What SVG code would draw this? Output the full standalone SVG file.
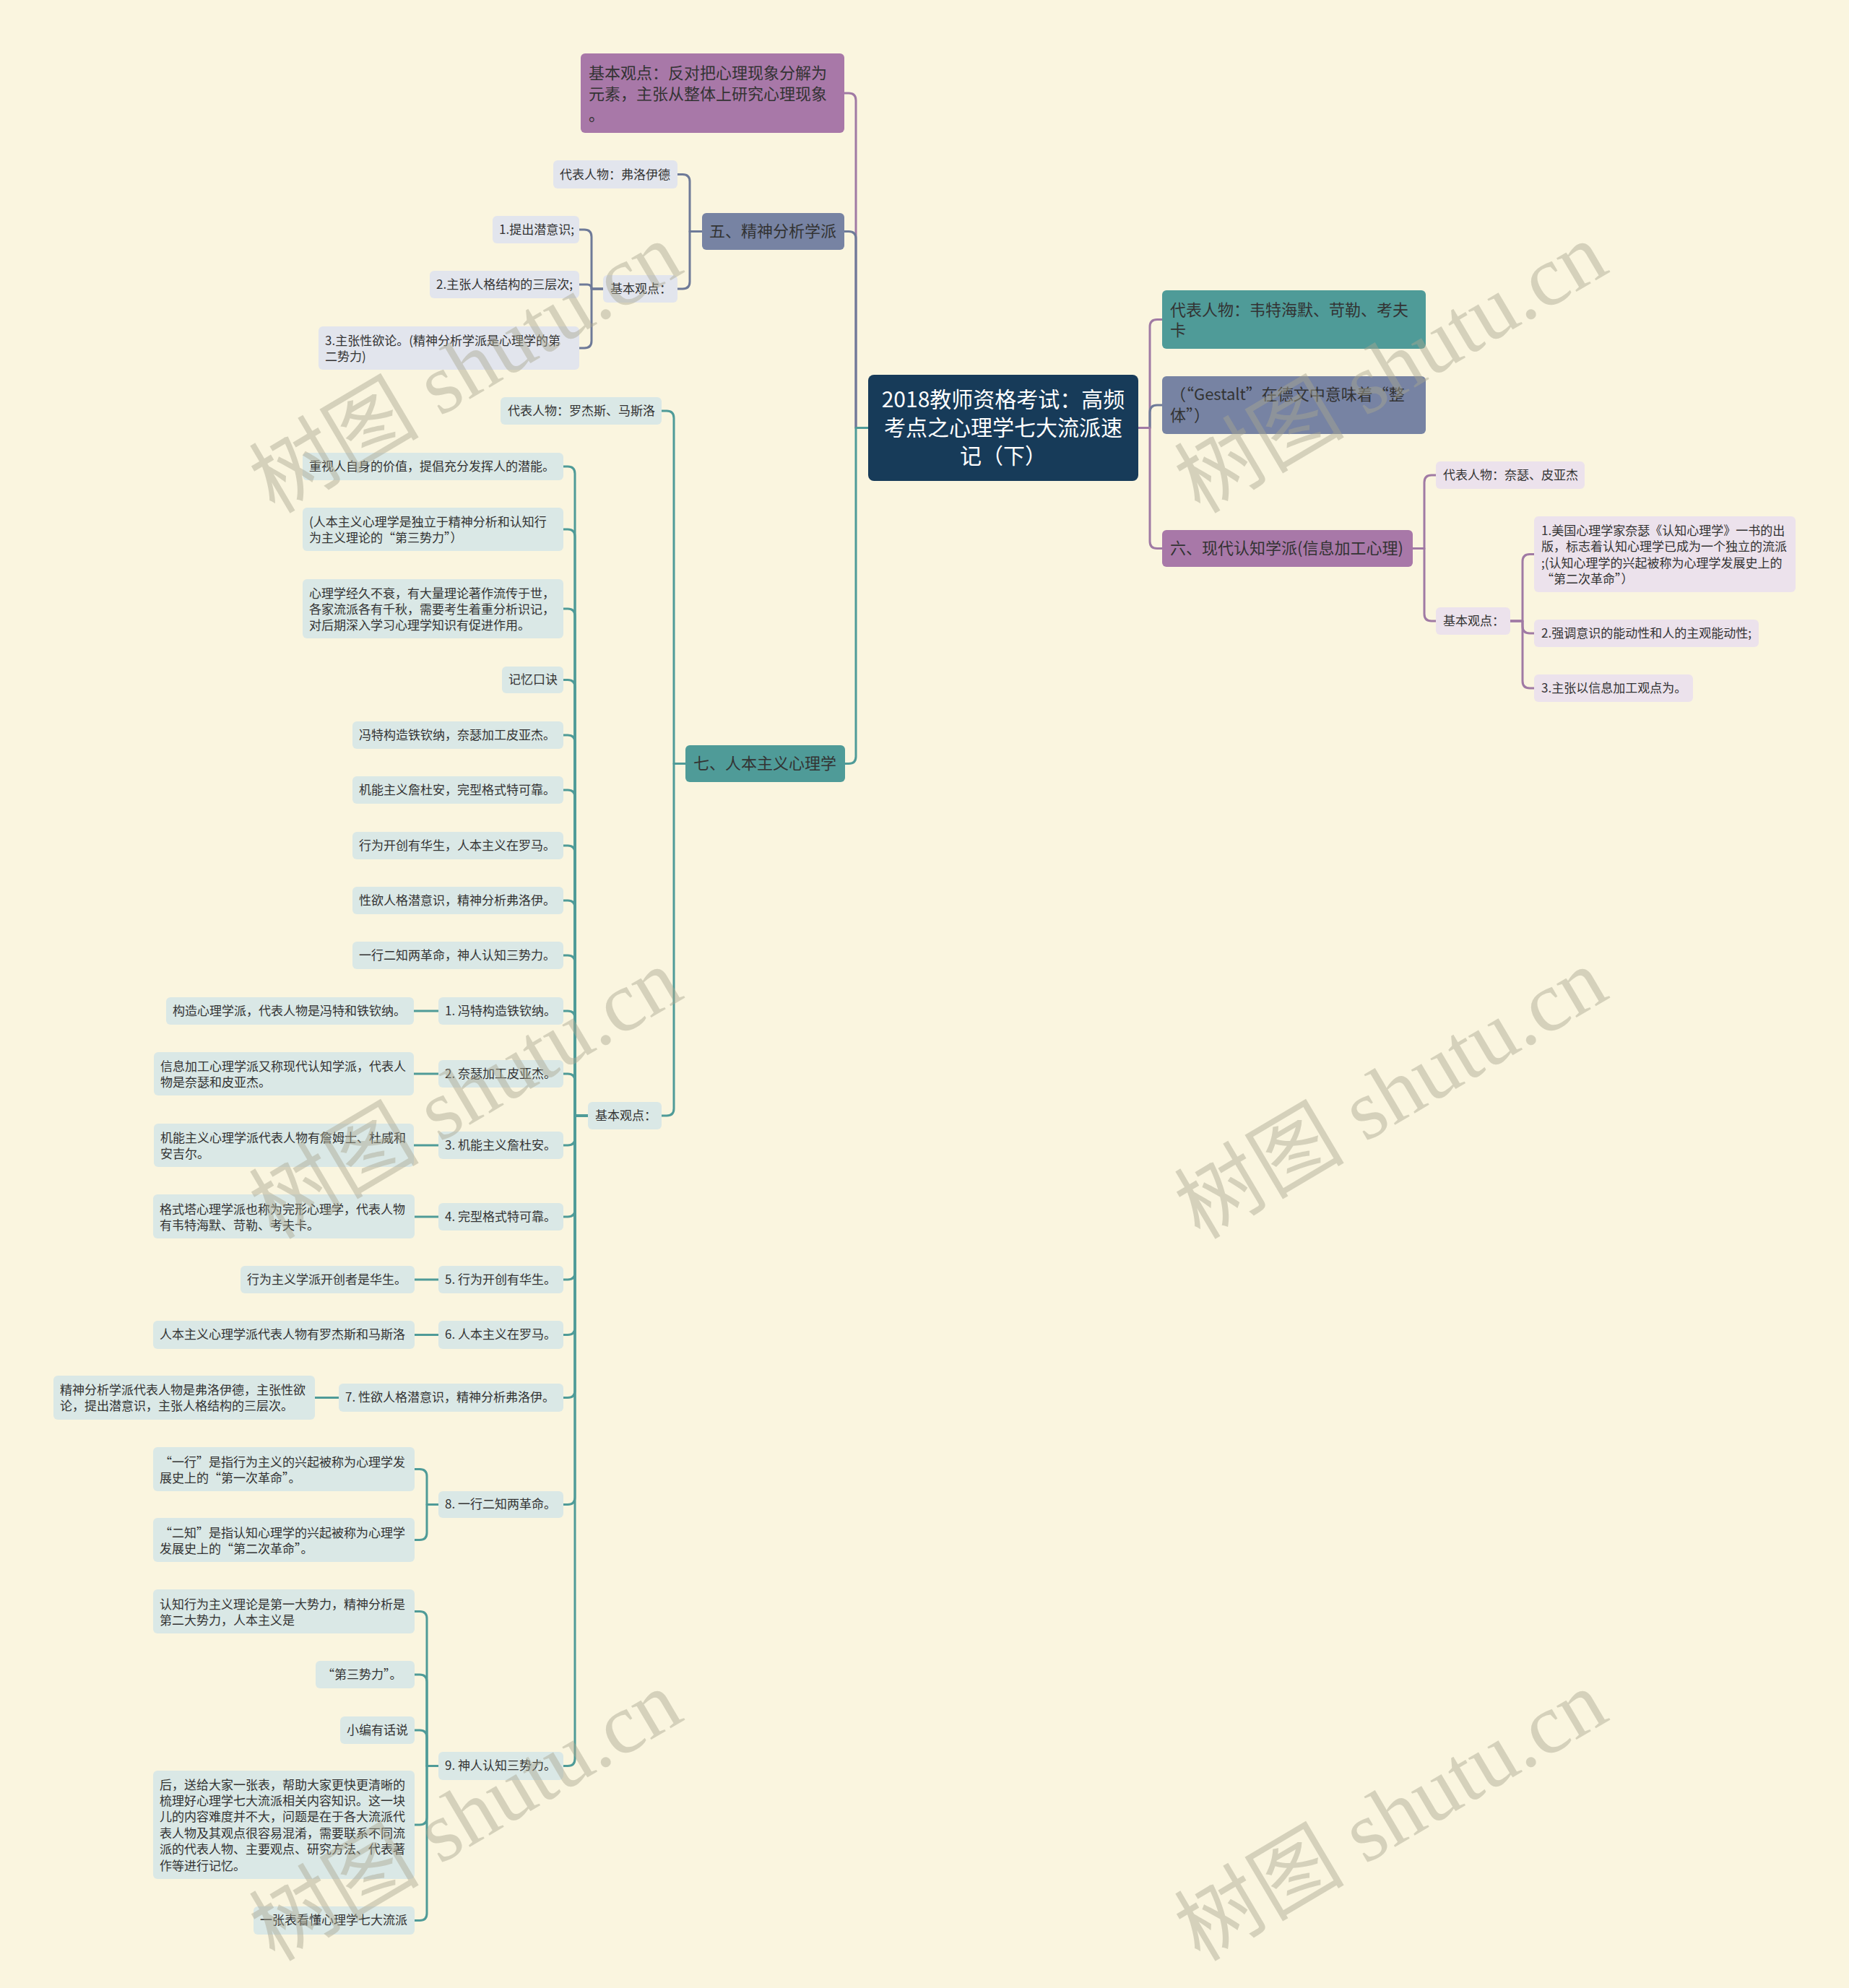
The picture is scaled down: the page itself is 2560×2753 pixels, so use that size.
<svg xmlns="http://www.w3.org/2000/svg" width="2560" height="2753" viewBox="0 0 2560 2753">
<style>
.t{font-family:"Noto Sans CJK SC","Noto Sans",sans-serif;fill:#333;dominant-baseline:central}
.f17{font-size:17px}
.f22{font-size:22px}
.f30{font-size:30px;fill:#fff}
.root{fill:#173b59}
.teal{fill:#4f9b98}
.slate{fill:#7783a3}
.purp{fill:#a878a8}
.lt{fill:#dae8e6}
.ls{fill:#e2e5ed}
.lp{fill:#ece2ec}
.c{fill:none;stroke-width:3;stroke-linecap:round;stroke-linejoin:round}
.ct{stroke:#4f9b98}
.cs{stroke:#6e7a98}
.cp{stroke:#a07aa4}
.wm{font-family:"Liberation Serif","Noto Sans CJK SC",serif;font-size:118px;fill:#a8a690;fill-opacity:0.45;text-anchor:middle;dominant-baseline:central}
</style>
<rect x="0" y="0" width="2560" height="2753" fill="#faf5df"/>

<g id="connectors">
  <path class="c cp" d="M1576 592.5 H1592 V452.5 Q1592 442.5 1602 442.5 H1609"/>
  <path class="c cs" d="M1576 592.5 H1592 V571 Q1592 561 1602 561 H1609"/>
  <path class="c cp" d="M1576 592.5 H1592 V749.5 Q1592 759.5 1602 759.5 H1609"/>
  <path class="c cp" d="M1956 759.5 H1972 V668 Q1972 658 1982 658 H1988"/>
  <path class="c cp" d="M1956 759.5 H1972 V850 Q1972 860 1982 860 H1988"/>
  <path class="c cp" d="M2091 860 H2108 V777.5 Q2108 767.5 2118 767.5 H2124"/>
  <path class="c cp" d="M2091 860 H2108 V867 Q2108 877 2118 877 H2124"/>
  <path class="c cp" d="M2091 860 H2108 V943 Q2108 953 2118 953 H2124"/>

  <path class="c cp" d="M1202 592.5 H1185 V139 Q1185 129 1175 129 H1169"/>
  <path class="c cs" d="M1202 592.5 H1185 V330.5 Q1185 320.5 1175 320.5 H1169"/>
  <path class="c ct" d="M1202 592.5 H1185 V1047.5 Q1185 1057.5 1175 1057.5 H1170"/>

  <path class="c cs" d="M972 320.5 H955 V251.5 Q955 241.5 945 241.5 H938"/>
  <path class="c cs" d="M972 320.5 H955 V390 Q955 400 945 400 H938"/>
  <path class="c cs" d="M835 400 H819 V328 Q819 318 809 318 H802"/>
  <path class="c cs" d="M835 400 H819 Q819 394 813 394 H802"/>
  <path class="c cs" d="M835 400 H819 V472 Q819 482 809 482 H802"/>

  <path class="c ct" d="M949 1057.5 H933 V579 Q933 569 923 569 H916"/>
  <path class="c ct" d="M949 1057.5 H933 V1535 Q933 1545 923 1545 H916"/>

  <path class="c ct" d="M814 1545 H796 V656 Q796 646 786 646 H780"/>
  <path class="c ct" d="M814 1545 H796 V743 Q796 733 786 733 H780"/>
  <path class="c ct" d="M814 1545 H796 V853 Q796 843 786 843 H780"/>
  <path class="c ct" d="M814 1545 H796 V951.5 Q796 941.5 786 941.5 H780"/>
  <path class="c ct" d="M814 1545 H796 V1028 Q796 1018 786 1018 H780"/>
  <path class="c ct" d="M814 1545 H796 V1104 Q796 1094 786 1094 H780"/>
  <path class="c ct" d="M814 1545 H796 V1181 Q796 1171 786 1171 H780"/>
  <path class="c ct" d="M814 1545 H796 V1257 Q796 1247 786 1247 H780"/>
  <path class="c ct" d="M814 1545 H796 V1333 Q796 1323 786 1323 H780"/>
  <path class="c ct" d="M814 1545 H796 V1410 Q796 1400 786 1400 H780"/>
  <path class="c ct" d="M814 1545 H796 V1497 Q796 1487 786 1487 H780"/>
  <path class="c ct" d="M814 1545 H796 V1576 Q796 1586 786 1586 H780"/>
  <path class="c ct" d="M814 1545 H796 V1675 Q796 1685 786 1685 H780"/>
  <path class="c ct" d="M814 1545 H796 V1762 Q796 1772 786 1772 H780"/>
  <path class="c ct" d="M814 1545 H796 V1838.5 Q796 1848.5 786 1848.5 H780"/>
  <path class="c ct" d="M814 1545 H796 V1925.5 Q796 1935.5 786 1935.5 H780"/>
  <path class="c ct" d="M814 1545 H796 V2073.5 Q796 2083.5 786 2083.5 H780"/>
  <path class="c ct" d="M814 1545 H796 V2435.5 Q796 2445.5 786 2445.5 H780"/>

  <path class="c ct" d="M607 1400 H573"/>
  <path class="c ct" d="M607 1487 H573"/>
  <path class="c ct" d="M607 1586 H573"/>
  <path class="c ct" d="M607 1685 H574"/>
  <path class="c ct" d="M607 1772 H574"/>
  <path class="c ct" d="M607 1848.5 H574"/>
  <path class="c ct" d="M469 1935.5 H436"/>

  <path class="c ct" d="M607 2083.5 H591 V2044.5 Q591 2034.5 581 2034.5 H574"/>
  <path class="c ct" d="M607 2083.5 H591 V2122.5 Q591 2132.5 581 2132.5 H574"/>

  <path class="c ct" d="M607 2445.5 H591 V2241.5 Q591 2231.5 581 2231.5 H574"/>
  <path class="c ct" d="M607 2445.5 H591 V2329 Q591 2319 581 2319 H574"/>
  <path class="c ct" d="M607 2445.5 H591 V2406 Q591 2396 581 2396 H574"/>
  <path class="c ct" d="M607 2445.5 H591 V2517 Q591 2527 581 2527 H574"/>
  <path class="c ct" d="M607 2445.5 H591 V2649.5 Q591 2659.5 581 2659.5 H574"/>
</g>

<g id="root">
  <rect class="root" x="1202" y="519" width="374" height="147" rx="8"/>
  <text class="t f30" x="1389" y="551" text-anchor="middle">2018教师资格考试：高频</text>
  <text class="t f30" x="1389" y="590" text-anchor="middle">考点之心理学七大流派速</text>
  <text class="t f30" x="1389" y="629" text-anchor="middle">记（下）</text>
</g>

<g id="r1">
  <rect class="teal" x="1609" y="402" width="365" height="81" rx="6"/>
  <text class="t f22" x="1620" y="427">代表人物：韦特海默、苛勒、考夫</text>
  <text class="t f22" x="1620" y="455">卡</text>
</g>
<g id="r2">
  <rect class="slate" x="1609" y="521" width="365" height="80" rx="6"/>
  <text class="t f22" x="1620" y="544">（“Gestalt”在德文中意味着“整</text>
  <text class="t f22" x="1620" y="573">体”）</text>
</g>
<g id="r3">
  <rect class="purp" x="1609" y="734" width="347" height="51" rx="6"/>
  <text class="t f22" x="1620" y="757">六、现代认知学派(信息加工心理)</text>
</g>
<g id="r3a">
  <rect class="lp" x="1988" y="639" width="206" height="38" rx="6"/>
  <text class="t f17" x="1998" y="656">代表人物：奈瑟、皮亚杰</text>
</g>
<g id="r3b">
  <rect class="lp" x="1988" y="841" width="103" height="38" rx="6"/>
  <text class="t f17" x="1998" y="858">基本观点：</text>
</g>
<g id="r3b1">
  <rect class="lp" x="2124" y="715" width="362" height="105" rx="6"/>
  <text class="t f17" x="2134" y="733">1.美国心理学家奈瑟《认知心理学》一书的出</text>
  <text class="t f17" x="2134" y="755">版，标志着认知心理学已成为一个独立的流派</text>
  <text class="t f17" x="2134" y="778">;(认知心理学的兴起被称为心理学发展史上的</text>
  <text class="t f17" x="2134" y="800"> “第二次革命”）</text>
</g>
<g id="r3b2">
  <rect class="lp" x="2124" y="858" width="311" height="38" rx="6"/>
  <text class="t f17" x="2134" y="875">2.强调意识的能动性和人的主观能动性;</text>
</g>
<g id="r3b3">
  <rect class="lp" x="2124" y="934" width="220" height="38" rx="6"/>
  <text class="t f17" x="2134" y="951">3.主张以信息加工观点为。</text>
</g>

<g id="l0">
  <rect class="purp" x="804" y="74" width="365" height="110" rx="6"/>
  <text class="t f22" x="815" y="99">基本观点：反对把心理现象分解为</text>
  <text class="t f22" x="815" y="128">元素，主张从整体上研究心理现象</text>
  <text class="t f22" x="815" y="157">。</text>
</g>
<g id="l1">
  <rect class="slate" x="972" y="295" width="197" height="51" rx="6"/>
  <text class="t f22" x="982" y="318">五、精神分析学派</text>
</g>
<g id="l1a">
  <rect class="ls" x="766" y="222" width="172" height="39" rx="6"/>
  <text class="t f17" x="775" y="240">代表人物：弗洛伊德</text>
</g>
<g id="l1b">
  <rect class="ls" x="835" y="381" width="103" height="38" rx="6"/>
  <text class="t f17" x="845" y="398">基本观点：</text>
</g>
<g id="l1b1">
  <rect class="ls" x="682" y="299" width="120" height="38" rx="6"/>
  <text class="t f17" x="691" y="316">1.提出潜意识;</text>
</g>
<g id="l1b2">
  <rect class="ls" x="595" y="375" width="207" height="38" rx="6"/>
  <text class="t f17" x="604" y="392">2.主张人格结构的三层次;</text>
</g>
<g id="l1b3">
  <rect class="ls" x="441" y="452" width="361" height="60" rx="6"/>
  <text class="t f17" x="450" y="470">3.主张性欲论。(精神分析学派是心理学的第</text>
  <text class="t f17" x="450" y="492">二势力)</text>
</g>

<g id="l2">
  <rect class="teal" x="949" y="1032" width="221" height="51" rx="6"/>
  <text class="t f22" x="960" y="1055">七、人本主义心理学</text>
</g>
<g id="l2a">
  <rect class="lt" x="693" y="550" width="223" height="38" rx="6"/>
  <text class="t f17" x="703" y="567">代表人物：罗杰斯、马斯洛</text>
</g>
<g id="l2b">
  <rect class="lt" x="814" y="1526" width="102" height="38" rx="6"/>
  <text class="t f17" x="824" y="1543">基本观点：</text>
</g>
<g id="c1">
  <rect class="lt" x="419" y="627" width="361" height="38" rx="6"/>
  <text class="t f17" x="428" y="644">重视人自身的价值，提倡充分发挥人的潜能。</text>
</g>
<g id="c2">
  <rect class="lt" x="419" y="703" width="361" height="60" rx="6"/>
  <text class="t f17" x="428" y="721">(人本主义心理学是独立于精神分析和认知行</text>
  <text class="t f17" x="428" y="743">为主义理论的“第三势力”）</text>
</g>
<g id="c3">
  <rect class="lt" x="419" y="802" width="361" height="82" rx="6"/>
  <text class="t f17" x="428" y="820">心理学经久不衰，有大量理论著作流传于世，</text>
  <text class="t f17" x="428" y="842">各家流派各有千秋，需要考生着重分析识记，</text>
  <text class="t f17" x="428" y="864">对后期深入学习心理学知识有促进作用。</text>
</g>
<g id="c4">
  <rect class="lt" x="695" y="923" width="85" height="37" rx="6"/>
  <text class="t f17" x="704" y="939.5">记忆口诀</text>
</g>
<g id="c5">
  <rect class="lt" x="488" y="999" width="292" height="38" rx="6"/>
  <text class="t f17" x="497" y="1016">冯特构造铁钦纳，奈瑟加工皮亚杰。</text>
</g>
<g id="c6">
  <rect class="lt" x="488" y="1075" width="292" height="38" rx="6"/>
  <text class="t f17" x="497" y="1092">机能主义詹杜安，完型格式特可靠。</text>
</g>
<g id="c7">
  <rect class="lt" x="488" y="1152" width="292" height="38" rx="6"/>
  <text class="t f17" x="497" y="1169">行为开创有华生，人本主义在罗马。</text>
</g>
<g id="c8">
  <rect class="lt" x="488" y="1228" width="292" height="38" rx="6"/>
  <text class="t f17" x="497" y="1245">性欲人格潜意识，精神分析弗洛伊。</text>
</g>
<g id="c9">
  <rect class="lt" x="488" y="1304" width="292" height="38" rx="6"/>
  <text class="t f17" x="497" y="1321">一行二知两革命，神人认知三势力。</text>
</g>
<g id="c10">
  <rect class="lt" x="607" y="1381" width="173" height="38" rx="6"/>
  <text class="t f17" x="616" y="1398">1. 冯特构造铁钦纳。</text>
</g>
<g id="c10a">
  <rect class="lt" x="230" y="1381" width="343" height="38" rx="6"/>
  <text class="t f17" x="239" y="1398">构造心理学派，代表人物是冯特和铁钦纳。</text>
</g>
<g id="c11">
  <rect class="lt" x="607" y="1468" width="173" height="38" rx="6"/>
  <text class="t f17" x="616" y="1485">2. 奈瑟加工皮亚杰。</text>
</g>
<g id="c11a">
  <rect class="lt" x="213" y="1457" width="360" height="60" rx="6"/>
  <text class="t f17" x="222" y="1475">信息加工心理学派又称现代认知学派，代表人</text>
  <text class="t f17" x="222" y="1497">物是奈瑟和皮亚杰。</text>
</g>
<g id="c12">
  <rect class="lt" x="607" y="1567" width="173" height="38" rx="6"/>
  <text class="t f17" x="616" y="1584">3. 机能主义詹杜安。</text>
</g>
<g id="c12a">
  <rect class="lt" x="213" y="1556" width="360" height="60" rx="6"/>
  <text class="t f17" x="222" y="1574">机能主义心理学派代表人物有詹姆士、杜威和</text>
  <text class="t f17" x="222" y="1596">安吉尔。</text>
</g>
<g id="c13">
  <rect class="lt" x="607" y="1666" width="173" height="38" rx="6"/>
  <text class="t f17" x="616" y="1683">4. 完型格式特可靠。</text>
</g>
<g id="c13a">
  <rect class="lt" x="212" y="1654" width="362" height="61" rx="6"/>
  <text class="t f17" x="221" y="1673">格式塔心理学派也称为完形心理学，代表人物</text>
  <text class="t f17" x="221" y="1695">有韦特海默、苛勒、考夫卡。</text>
</g>
<g id="c14">
  <rect class="lt" x="607" y="1753" width="173" height="38" rx="6"/>
  <text class="t f17" x="616" y="1770">5. 行为开创有华生。</text>
</g>
<g id="c14a">
  <rect class="lt" x="333" y="1753" width="241" height="38" rx="6"/>
  <text class="t f17" x="342" y="1770">行为主义学派开创者是华生。</text>
</g>
<g id="c15">
  <rect class="lt" x="607" y="1829" width="173" height="39" rx="6"/>
  <text class="t f17" x="616" y="1846.5">6. 人本主义在罗马。</text>
</g>
<g id="c15a">
  <rect class="lt" x="212" y="1829" width="362" height="39" rx="6"/>
  <text class="t f17" x="221" y="1846.5">人本主义心理学派代表人物有罗杰斯和马斯洛</text>
</g>
<g id="c16">
  <rect class="lt" x="469" y="1916" width="311" height="39" rx="6"/>
  <text class="t f17" x="478" y="1933.5">7. 性欲人格潜意识，精神分析弗洛伊。</text>
</g>
<g id="c16a">
  <rect class="lt" x="74" y="1905" width="362" height="61" rx="6"/>
  <text class="t f17" x="83" y="1923">精神分析学派代表人物是弗洛伊德，主张性欲</text>
  <text class="t f17" x="83" y="1945">论，提出潜意识，主张人格结构的三层次。</text>
</g>
<g id="c17">
  <rect class="lt" x="607" y="2065" width="173" height="37" rx="6"/>
  <text class="t f17" x="616" y="2081.5">8. 一行二知两革命。</text>
</g>
<g id="c17a">
  <rect class="lt" x="212" y="2004" width="362" height="61" rx="6"/>
  <text class="t f17" x="221" y="2023">“一行”是指行为主义的兴起被称为心理学发</text>
  <text class="t f17" x="221" y="2045">展史上的“第一次革命”。</text>
</g>
<g id="c17b">
  <rect class="lt" x="212" y="2102" width="362" height="61" rx="6"/>
  <text class="t f17" x="221" y="2121">“二知”是指认知心理学的兴起被称为心理学</text>
  <text class="t f17" x="221" y="2143">发展史上的“第二次革命”。</text>
</g>
<g id="c18">
  <rect class="lt" x="607" y="2426" width="173" height="39" rx="6"/>
  <text class="t f17" x="616" y="2443.5">9. 神人认知三势力。</text>
</g>
<g id="c18a">
  <rect class="lt" x="212" y="2201" width="362" height="61" rx="6"/>
  <text class="t f17" x="221" y="2220">认知行为主义理论是第一大势力，精神分析是</text>
  <text class="t f17" x="221" y="2242">第二大势力，人本主义是</text>
</g>
<g id="c18b">
  <rect class="lt" x="437" y="2300" width="137" height="38" rx="6"/>
  <text class="t f17" x="446" y="2317">“第三势力”。</text>
</g>
<g id="c18c">
  <rect class="lt" x="471" y="2377" width="103" height="38" rx="6"/>
  <text class="t f17" x="480" y="2394">小编有话说</text>
</g>
<g id="c18d">
  <rect class="lt" x="212" y="2452" width="362" height="150" rx="6"/>
  <text class="t f17" x="221" y="2470">后，送给大家一张表，帮助大家更快更清晰的</text>
  <text class="t f17" x="221" y="2492.4">梳理好心理学七大流派相关内容知识。这一块</text>
  <text class="t f17" x="221" y="2514.8">儿的内容难度并不大，问题是在于各大流派代</text>
  <text class="t f17" x="221" y="2537.2">表人物及其观点很容易混淆，需要联系不同流</text>
  <text class="t f17" x="221" y="2559.6">派的代表人物、主要观点、研究方法、代表著</text>
  <text class="t f17" x="221" y="2582">作等进行记忆。</text>
</g>
<g id="c18e">
  <rect class="lt" x="351" y="2640" width="223" height="39" rx="6"/>
  <text class="t f17" x="360" y="2657.5">一张表看懂心理学七大流派</text>
</g>

<g id="watermarks">
  <text class="wm" transform="translate(645 510) rotate(-30.6)">树图 shutu.cn</text>
  <text class="wm" transform="translate(645 1515) rotate(-30.6)">树图 shutu.cn</text>
  <text class="wm" transform="translate(645 2515) rotate(-30.6)">树图 shutu.cn</text>
  <text class="wm" transform="translate(1926 510) rotate(-30.6)">树图 shutu.cn</text>
  <text class="wm" transform="translate(1926 1515) rotate(-30.6)">树图 shutu.cn</text>
  <text class="wm" transform="translate(1926 2515) rotate(-30.6)">树图 shutu.cn</text>
</g>
</svg>
